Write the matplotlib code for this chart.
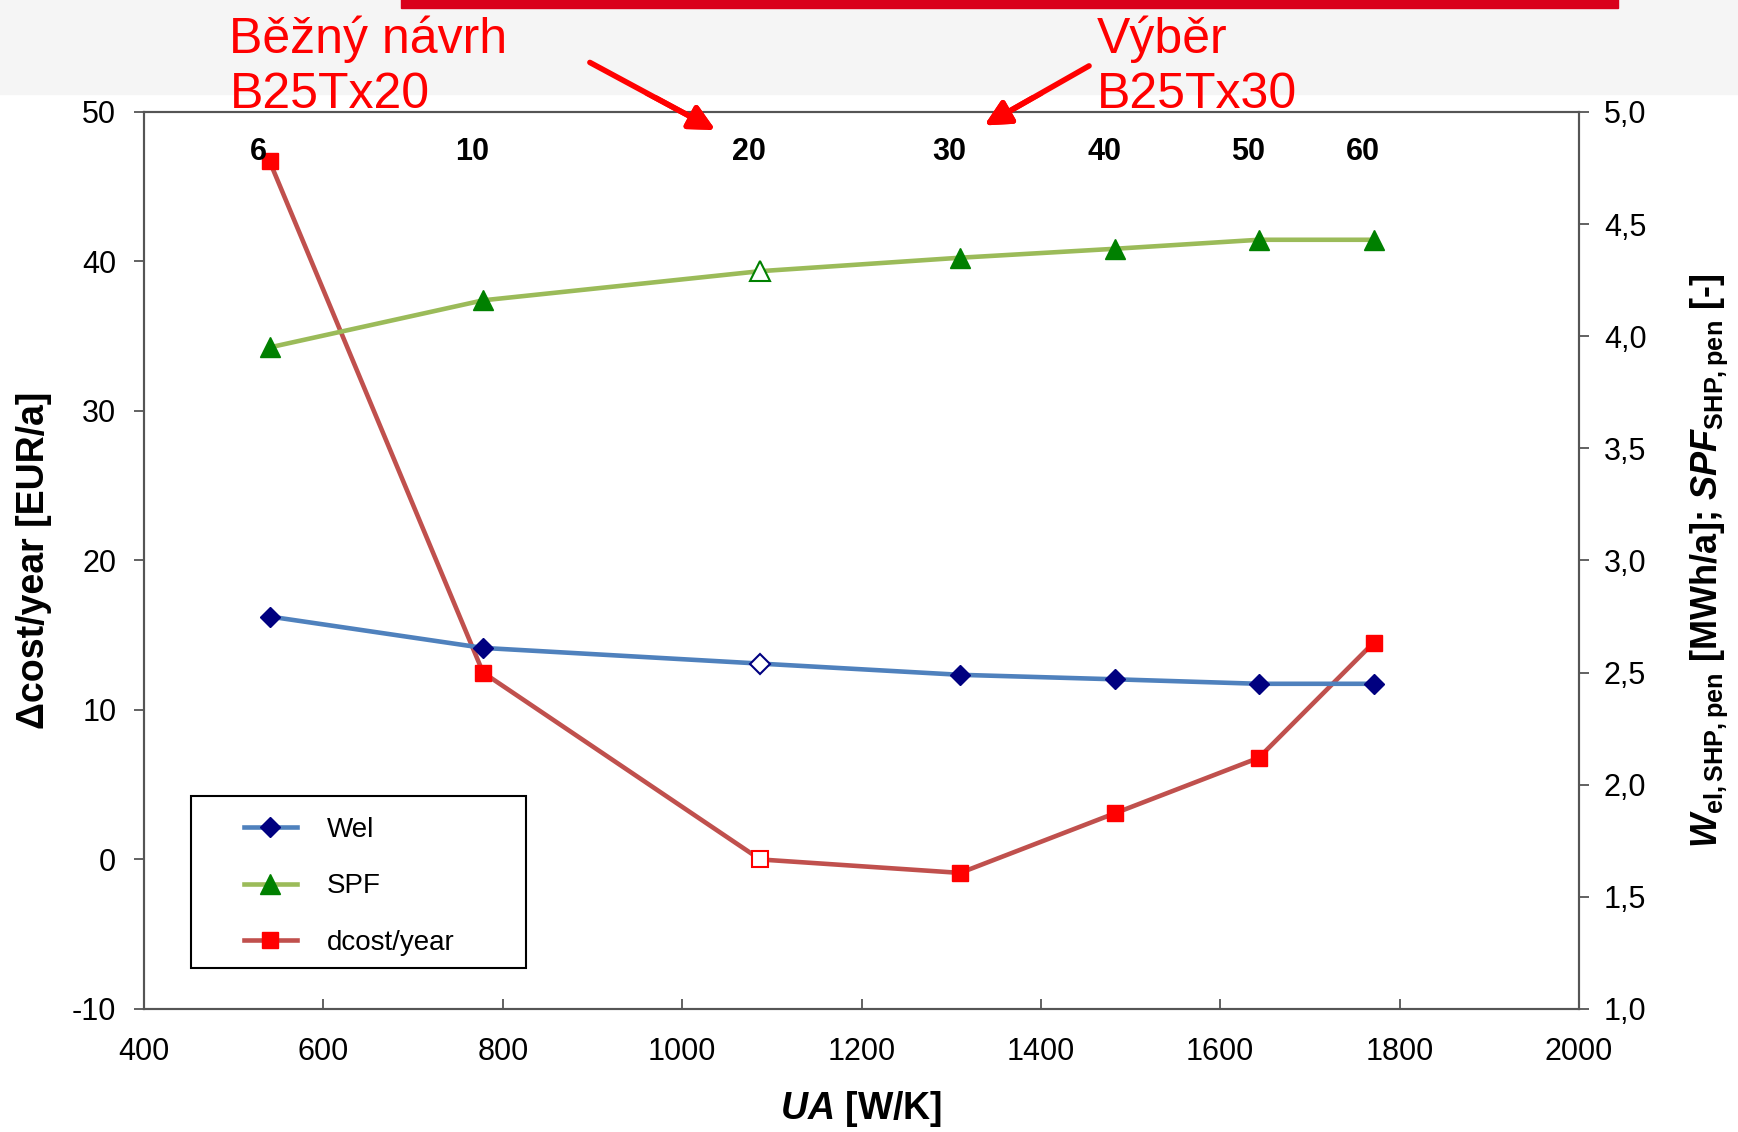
import matplotlib.pyplot as plt
from matplotlib.patches import Rectangle
from matplotlib.ticker import FuncFormatter

# data
ua = [540, 778, 1087, 1310, 1483, 1643, 1771]
wel = [2.75, 2.61, 2.54, 2.49, 2.47, 2.45, 2.45]
spf = [3.95, 4.16, 4.29, 4.35, 4.39, 4.43, 4.43]
dcost = [46.7, 12.5, 0.0, -0.9, 3.1, 6.8, 14.5]
top_labels = ["6", "10", "20", "30", "40", "50", "60"]
chosen = 2  # the hollow point

plt.rcParams['font.family'] = ['Liberation Sans', 'DejaVu Sans']
plt.rcParams['axes.unicode_minus'] = False
plt.rcParams['mathtext.fontset'] = 'custom'
plt.rcParams['mathtext.it'] = 'Liberation Sans:italic:bold'
plt.rcParams['mathtext.rm'] = 'Liberation Sans:bold'
plt.rcParams['mathtext.bf'] = 'Liberation Sans:bold'

fig = plt.figure(figsize=(17.38, 11.32), dpi=100)
ax = fig.add_axes([0.0829, 0.1087, 0.8256, 0.7924])
ax2 = ax.twinx()

# faint band and red bar at the top of the slide
fig.patches.append(Rectangle((0, 0.917), 1, 0.083, transform=fig.transFigure,
                             color='#f5f5f5', zorder=0))
fig.patches.append(Rectangle((0.231, 0.993), 0.700, 0.008, transform=fig.transFigure,
                             color='#d9001b', zorder=1))


def draw(axis, y, lc, mc, marker, ms, label):
    axis.plot(ua, y, color=lc, lw=3.3, zorder=2)
    idx = [i for i in range(len(ua)) if i != chosen]
    axis.plot([ua[i] for i in idx], [y[i] for i in idx], ls='none', marker=marker,
              ms=ms, color=mc, zorder=3)
    axis.plot([ua[chosen]], [y[chosen]], ls='none', marker=marker, ms=ms,
              mfc='white', mec=mc, mew=1.5, zorder=3)
    return axis.plot([], [], color=lc, lw=3.3, marker=marker, ms=ms, mfc=mc, mec=mc,
                     label=label)[0]


h_wel = draw(ax2, wel, '#4f81bd', '#000080', 'D', 10, 'Wel')
h_spf = draw(ax2, spf, '#9bbb59', '#008000', '^', 14, 'SPF')
h_dc = draw(ax, dcost, '#c0504d', '#ff0000', 's', 11, 'dcost/year')

ax.set_xlim(400, 2000)
ax.set_ylim(-10, 50)
ax2.set_ylim(1.0, 5.0)
ax.set_xticks(range(400, 2001, 200))
ax.set_yticks(range(-10, 51, 10))
ax2.set_yticks([1.0, 1.5, 2.0, 2.5, 3.0, 3.5, 4.0, 4.5, 5.0])
ax2.yaxis.set_major_formatter(FuncFormatter(lambda v, p: f"{v:.1f}".replace('.', ',')))

for a in (ax, ax2):
    for s in a.spines.values():
        s.set_color('#555555')
        s.set_linewidth(1.5)
ax.tick_params(axis='x', labelsize=22, direction='in', length=7, width=1.3,
               color='#555555', pad=20)
ax.tick_params(axis='y', labelsize=22, direction='out', length=7, width=1.3,
               color='#555555', pad=13)
ax2.tick_params(axis='y', labelsize=22, direction='out', length=7, width=1.3,
                color='#555555', pad=11)

ax.set_xlabel(r"$UA$ [W/K]", fontsize=27, fontweight='bold', labelpad=16)
ax.set_ylabel("Δcost/year [EUR/a]", fontsize=27, fontweight='bold', labelpad=14)
ax2.set_ylabel(r"$W_{\mathrm{el,SHP,pen}}$ [MWh/a]; $SPF_{\mathrm{SHP,pen}}$ [-]",
               fontsize=26, fontweight='bold', labelpad=30)

# length labels above the points
for x, t in zip(ua, top_labels):
    ax.annotate(t, (x, 47.3), xytext=(-8, 0), textcoords='offset points',
                ha='center', va='center', fontsize=22, fontweight='bold')

# legend box drawn by hand, legend itself without frame
ax2.add_patch(Rectangle((0.033, 0.046), 0.233, 0.1916, transform=ax2.transAxes,
                        facecolor='white', edgecolor='black', lw=1.5, zorder=4))
leg = ax2.legend(handles=[h_wel, h_spf, h_dc], loc='lower left',
                 bbox_to_anchor=(0.0695, 0.059), fontsize=20, frameon=False,
                 borderpad=0, handlelength=1.9, labelspacing=1.1,
                 handletextpad=1.1, borderaxespad=0)
leg.set_zorder(5)

# red notes with arrows
for x, y, t in [(0.132, 0.953, "Běžný návrh"), (0.132, 0.905, "B25Tx20"),
                (0.631, 0.953, "Výběr"), (0.631, 0.905, "B25Tx30")]:
    fig.text(x, y, t, color='#ff0000', fontsize=36, ha='left', va='baseline')
fig.add_artist(plt.annotate("", xy=(0.413, 0.884), xytext=(0.338, 0.946),
                            xycoords='figure fraction',
                            arrowprops=dict(arrowstyle='-|>', color='#ff0000', lw=4,
                                            mutation_scale=38)))
fig.add_artist(plt.annotate("", xy=(0.565, 0.888), xytext=(0.628, 0.943),
                            xycoords='figure fraction',
                            arrowprops=dict(arrowstyle='-|>', color='#ff0000', lw=4,
                                            mutation_scale=38)))

fig.savefig('out.png', dpi=100)
